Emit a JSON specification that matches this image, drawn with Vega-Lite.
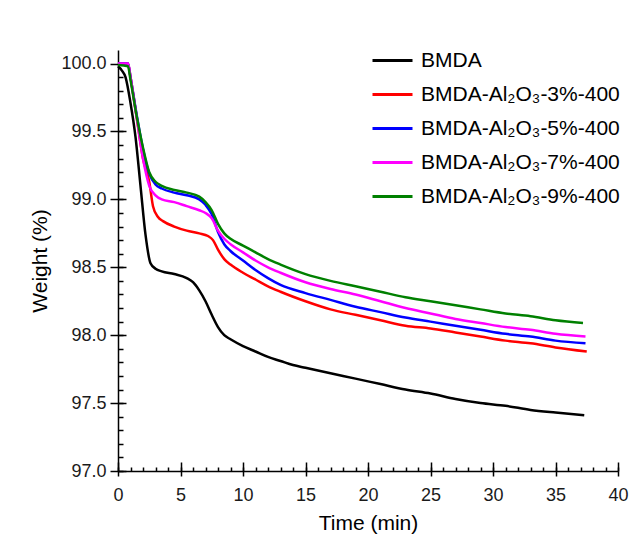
{
  "$schema": "https://vega.github.io/schema/vega-lite/v6.json",
  "width": 500,
  "height": 421,
  "autosize": {"type": "none"},
  "padding": {"left": 118, "top": 50, "right": 23, "bottom": 66},
  "background": "white",
  "config": {
    "view": {"stroke": null},
    "font": "Liberation Sans",
    "axis": {"grid": false, "domainColor": "black", "tickColor": "black", "domainWidth": 1.5, "tickWidth": 1.5, "labelFont": "Liberation Sans", "titleFont": "Liberation Sans", "labelColor": "#1a1a1a", "titleColor": "black", "titleFontWeight": "normal"}
  },
  "data": {
    "values": [
      {"series": "BMDA", "time": 0, "weight": 99.98},
      {"series": "BMDA", "time": 0.3, "weight": 99.95},
      {"series": "BMDA", "time": 0.6, "weight": 99.9},
      {"series": "BMDA", "time": 1.0, "weight": 99.71},
      {"series": "BMDA", "time": 1.4, "weight": 99.46},
      {"series": "BMDA", "time": 1.8, "weight": 99.1},
      {"series": "BMDA", "time": 2.2, "weight": 98.74},
      {"series": "BMDA", "time": 2.6, "weight": 98.53},
      {"series": "BMDA", "time": 3.0, "weight": 98.49},
      {"series": "BMDA", "time": 3.5, "weight": 98.47},
      {"series": "BMDA", "time": 4.5, "weight": 98.45},
      {"series": "BMDA", "time": 5.5, "weight": 98.42},
      {"series": "BMDA", "time": 6.0, "weight": 98.39},
      {"series": "BMDA", "time": 6.5, "weight": 98.33},
      {"series": "BMDA", "time": 7.0, "weight": 98.25},
      {"series": "BMDA", "time": 7.5, "weight": 98.15},
      {"series": "BMDA", "time": 8.0, "weight": 98.06},
      {"series": "BMDA", "time": 8.5, "weight": 98.0},
      {"series": "BMDA", "time": 9.0, "weight": 97.97},
      {"series": "BMDA", "time": 10, "weight": 97.92},
      {"series": "BMDA", "time": 11, "weight": 97.88},
      {"series": "BMDA", "time": 12, "weight": 97.84},
      {"series": "BMDA", "time": 13, "weight": 97.81},
      {"series": "BMDA", "time": 14, "weight": 97.78},
      {"series": "BMDA", "time": 15, "weight": 97.76},
      {"series": "BMDA", "time": 17, "weight": 97.72},
      {"series": "BMDA", "time": 19, "weight": 97.68},
      {"series": "BMDA", "time": 21, "weight": 97.64},
      {"series": "BMDA", "time": 23, "weight": 97.6},
      {"series": "BMDA", "time": 25, "weight": 97.57},
      {"series": "BMDA", "time": 27, "weight": 97.53},
      {"series": "BMDA", "time": 29, "weight": 97.5},
      {"series": "BMDA", "time": 31, "weight": 97.48},
      {"series": "BMDA", "time": 33, "weight": 97.45},
      {"series": "BMDA", "time": 35, "weight": 97.43},
      {"series": "BMDA", "time": 37.3, "weight": 97.41},

      {"series": "BMDA-Al₂O₃-3%-400", "time": 0, "weight": 100.0},
      {"series": "BMDA-Al₂O₃-3%-400", "time": 0.8, "weight": 100.0},
      {"series": "BMDA-Al₂O₃-3%-400", "time": 1.0, "weight": 99.9},
      {"series": "BMDA-Al₂O₃-3%-400", "time": 1.5, "weight": 99.6},
      {"series": "BMDA-Al₂O₃-3%-400", "time": 2.0, "weight": 99.3},
      {"series": "BMDA-Al₂O₃-3%-400", "time": 2.5, "weight": 99.13},
      {"series": "BMDA-Al₂O₃-3%-400", "time": 2.8, "weight": 98.95},
      {"series": "BMDA-Al₂O₃-3%-400", "time": 3.2, "weight": 98.87},
      {"series": "BMDA-Al₂O₃-3%-400", "time": 3.6, "weight": 98.84},
      {"series": "BMDA-Al₂O₃-3%-400", "time": 4.5, "weight": 98.8},
      {"series": "BMDA-Al₂O₃-3%-400", "time": 5.5, "weight": 98.77},
      {"series": "BMDA-Al₂O₃-3%-400", "time": 6.5, "weight": 98.75},
      {"series": "BMDA-Al₂O₃-3%-400", "time": 7.2, "weight": 98.73},
      {"series": "BMDA-Al₂O₃-3%-400", "time": 7.6, "weight": 98.7},
      {"series": "BMDA-Al₂O₃-3%-400", "time": 8.0, "weight": 98.63},
      {"series": "BMDA-Al₂O₃-3%-400", "time": 8.5, "weight": 98.56},
      {"series": "BMDA-Al₂O₃-3%-400", "time": 9.0, "weight": 98.52},
      {"series": "BMDA-Al₂O₃-3%-400", "time": 10, "weight": 98.46},
      {"series": "BMDA-Al₂O₃-3%-400", "time": 11, "weight": 98.41},
      {"series": "BMDA-Al₂O₃-3%-400", "time": 12, "weight": 98.36},
      {"series": "BMDA-Al₂O₃-3%-400", "time": 13, "weight": 98.32},
      {"series": "BMDA-Al₂O₃-3%-400", "time": 15, "weight": 98.25},
      {"series": "BMDA-Al₂O₃-3%-400", "time": 17, "weight": 98.19},
      {"series": "BMDA-Al₂O₃-3%-400", "time": 19, "weight": 98.15},
      {"series": "BMDA-Al₂O₃-3%-400", "time": 21, "weight": 98.11},
      {"series": "BMDA-Al₂O₃-3%-400", "time": 23, "weight": 98.07},
      {"series": "BMDA-Al₂O₃-3%-400", "time": 25, "weight": 98.05},
      {"series": "BMDA-Al₂O₃-3%-400", "time": 27, "weight": 98.02},
      {"series": "BMDA-Al₂O₃-3%-400", "time": 29, "weight": 97.99},
      {"series": "BMDA-Al₂O₃-3%-400", "time": 31, "weight": 97.96},
      {"series": "BMDA-Al₂O₃-3%-400", "time": 33, "weight": 97.94},
      {"series": "BMDA-Al₂O₃-3%-400", "time": 35, "weight": 97.91},
      {"series": "BMDA-Al₂O₃-3%-400", "time": 37.5, "weight": 97.88},

      {"series": "BMDA-Al₂O₃-5%-400", "time": 0, "weight": 100.0},
      {"series": "BMDA-Al₂O₃-5%-400", "time": 0.8, "weight": 100.0},
      {"series": "BMDA-Al₂O₃-5%-400", "time": 1.0, "weight": 99.9},
      {"series": "BMDA-Al₂O₃-5%-400", "time": 1.5, "weight": 99.62},
      {"series": "BMDA-Al₂O₃-5%-400", "time": 2.0, "weight": 99.37},
      {"series": "BMDA-Al₂O₃-5%-400", "time": 2.5, "weight": 99.19},
      {"series": "BMDA-Al₂O₃-5%-400", "time": 3.0, "weight": 99.11},
      {"series": "BMDA-Al₂O₃-5%-400", "time": 3.5, "weight": 99.08},
      {"series": "BMDA-Al₂O₃-5%-400", "time": 4.5, "weight": 99.05},
      {"series": "BMDA-Al₂O₃-5%-400", "time": 5.5, "weight": 99.03},
      {"series": "BMDA-Al₂O₃-5%-400", "time": 6.5, "weight": 99.0},
      {"series": "BMDA-Al₂O₃-5%-400", "time": 7.0, "weight": 98.96},
      {"series": "BMDA-Al₂O₃-5%-400", "time": 7.5, "weight": 98.89},
      {"series": "BMDA-Al₂O₃-5%-400", "time": 8.0, "weight": 98.76},
      {"series": "BMDA-Al₂O₃-5%-400", "time": 8.5, "weight": 98.67},
      {"series": "BMDA-Al₂O₃-5%-400", "time": 9.0, "weight": 98.62},
      {"series": "BMDA-Al₂O₃-5%-400", "time": 10, "weight": 98.55},
      {"series": "BMDA-Al₂O₃-5%-400", "time": 11, "weight": 98.48},
      {"series": "BMDA-Al₂O₃-5%-400", "time": 12, "weight": 98.42},
      {"series": "BMDA-Al₂O₃-5%-400", "time": 13, "weight": 98.37},
      {"series": "BMDA-Al₂O₃-5%-400", "time": 15, "weight": 98.31},
      {"series": "BMDA-Al₂O₃-5%-400", "time": 17, "weight": 98.26},
      {"series": "BMDA-Al₂O₃-5%-400", "time": 19, "weight": 98.21},
      {"series": "BMDA-Al₂O₃-5%-400", "time": 21, "weight": 98.17},
      {"series": "BMDA-Al₂O₃-5%-400", "time": 23, "weight": 98.13},
      {"series": "BMDA-Al₂O₃-5%-400", "time": 25, "weight": 98.1},
      {"series": "BMDA-Al₂O₃-5%-400", "time": 27, "weight": 98.07},
      {"series": "BMDA-Al₂O₃-5%-400", "time": 29, "weight": 98.04},
      {"series": "BMDA-Al₂O₃-5%-400", "time": 31, "weight": 98.01},
      {"series": "BMDA-Al₂O₃-5%-400", "time": 33, "weight": 97.99},
      {"series": "BMDA-Al₂O₃-5%-400", "time": 35, "weight": 97.96},
      {"series": "BMDA-Al₂O₃-5%-400", "time": 37.4, "weight": 97.94},

      {"series": "BMDA-Al₂O₃-7%-400", "time": 0, "weight": 100.0},
      {"series": "BMDA-Al₂O₃-7%-400", "time": 0.8, "weight": 100.0},
      {"series": "BMDA-Al₂O₃-7%-400", "time": 1.0, "weight": 99.9},
      {"series": "BMDA-Al₂O₃-7%-400", "time": 1.5, "weight": 99.6},
      {"series": "BMDA-Al₂O₃-7%-400", "time": 2.0, "weight": 99.3},
      {"series": "BMDA-Al₂O₃-7%-400", "time": 2.5, "weight": 99.1},
      {"series": "BMDA-Al₂O₃-7%-400", "time": 3.0, "weight": 99.03},
      {"series": "BMDA-Al₂O₃-7%-400", "time": 3.5, "weight": 99.0},
      {"series": "BMDA-Al₂O₃-7%-400", "time": 4.5, "weight": 98.98},
      {"series": "BMDA-Al₂O₃-7%-400", "time": 5.5, "weight": 98.95},
      {"series": "BMDA-Al₂O₃-7%-400", "time": 6.5, "weight": 98.92},
      {"series": "BMDA-Al₂O₃-7%-400", "time": 7.0, "weight": 98.9},
      {"series": "BMDA-Al₂O₃-7%-400", "time": 7.5, "weight": 98.86},
      {"series": "BMDA-Al₂O₃-7%-400", "time": 8.0, "weight": 98.77},
      {"series": "BMDA-Al₂O₃-7%-400", "time": 8.5, "weight": 98.71},
      {"series": "BMDA-Al₂O₃-7%-400", "time": 9.0, "weight": 98.67},
      {"series": "BMDA-Al₂O₃-7%-400", "time": 10, "weight": 98.61},
      {"series": "BMDA-Al₂O₃-7%-400", "time": 11, "weight": 98.55},
      {"series": "BMDA-Al₂O₃-7%-400", "time": 12, "weight": 98.5},
      {"series": "BMDA-Al₂O₃-7%-400", "time": 13, "weight": 98.46},
      {"series": "BMDA-Al₂O₃-7%-400", "time": 15, "weight": 98.39},
      {"series": "BMDA-Al₂O₃-7%-400", "time": 17, "weight": 98.34},
      {"series": "BMDA-Al₂O₃-7%-400", "time": 19, "weight": 98.3},
      {"series": "BMDA-Al₂O₃-7%-400", "time": 21, "weight": 98.25},
      {"series": "BMDA-Al₂O₃-7%-400", "time": 23, "weight": 98.2},
      {"series": "BMDA-Al₂O₃-7%-400", "time": 25, "weight": 98.16},
      {"series": "BMDA-Al₂O₃-7%-400", "time": 27, "weight": 98.12},
      {"series": "BMDA-Al₂O₃-7%-400", "time": 29, "weight": 98.09},
      {"series": "BMDA-Al₂O₃-7%-400", "time": 31, "weight": 98.06},
      {"series": "BMDA-Al₂O₃-7%-400", "time": 33, "weight": 98.04},
      {"series": "BMDA-Al₂O₃-7%-400", "time": 35, "weight": 98.01},
      {"series": "BMDA-Al₂O₃-7%-400", "time": 37.4, "weight": 97.99},

      {"series": "BMDA-Al₂O₃-9%-400", "time": 0, "weight": 99.99},
      {"series": "BMDA-Al₂O₃-9%-400", "time": 0.8, "weight": 99.98},
      {"series": "BMDA-Al₂O₃-9%-400", "time": 1.0, "weight": 99.88},
      {"series": "BMDA-Al₂O₃-9%-400", "time": 1.5, "weight": 99.61},
      {"series": "BMDA-Al₂O₃-9%-400", "time": 2.0, "weight": 99.38},
      {"series": "BMDA-Al₂O₃-9%-400", "time": 2.5, "weight": 99.2},
      {"series": "BMDA-Al₂O₃-9%-400", "time": 3.0, "weight": 99.13},
      {"series": "BMDA-Al₂O₃-9%-400", "time": 3.5, "weight": 99.1},
      {"series": "BMDA-Al₂O₃-9%-400", "time": 4.5, "weight": 99.07},
      {"series": "BMDA-Al₂O₃-9%-400", "time": 5.5, "weight": 99.05},
      {"series": "BMDA-Al₂O₃-9%-400", "time": 6.5, "weight": 99.02},
      {"series": "BMDA-Al₂O₃-9%-400", "time": 7.0, "weight": 98.98},
      {"series": "BMDA-Al₂O₃-9%-400", "time": 7.5, "weight": 98.92},
      {"series": "BMDA-Al₂O₃-9%-400", "time": 8.0, "weight": 98.82},
      {"series": "BMDA-Al₂O₃-9%-400", "time": 8.5, "weight": 98.75},
      {"series": "BMDA-Al₂O₃-9%-400", "time": 9.0, "weight": 98.71},
      {"series": "BMDA-Al₂O₃-9%-400", "time": 10, "weight": 98.66},
      {"series": "BMDA-Al₂O₃-9%-400", "time": 11, "weight": 98.61},
      {"series": "BMDA-Al₂O₃-9%-400", "time": 12, "weight": 98.56},
      {"series": "BMDA-Al₂O₃-9%-400", "time": 13, "weight": 98.52},
      {"series": "BMDA-Al₂O₃-9%-400", "time": 15, "weight": 98.45},
      {"series": "BMDA-Al₂O₃-9%-400", "time": 17, "weight": 98.4},
      {"series": "BMDA-Al₂O₃-9%-400", "time": 19, "weight": 98.36},
      {"series": "BMDA-Al₂O₃-9%-400", "time": 21, "weight": 98.32},
      {"series": "BMDA-Al₂O₃-9%-400", "time": 23, "weight": 98.28},
      {"series": "BMDA-Al₂O₃-9%-400", "time": 25, "weight": 98.25},
      {"series": "BMDA-Al₂O₃-9%-400", "time": 27, "weight": 98.22},
      {"series": "BMDA-Al₂O₃-9%-400", "time": 29, "weight": 98.19},
      {"series": "BMDA-Al₂O₃-9%-400", "time": 31, "weight": 98.16},
      {"series": "BMDA-Al₂O₃-9%-400", "time": 33, "weight": 98.14},
      {"series": "BMDA-Al₂O₃-9%-400", "time": 35, "weight": 98.11},
      {"series": "BMDA-Al₂O₃-9%-400", "time": 37.2, "weight": 98.09}
    ]
  },
  "layer": [
    {
      "mark": {"type": "line", "strokeWidth": 2.5, "interpolate": "monotone"},
      "encoding": {
        "x": {"field": "time", "type": "quantitative", "scale": {"domain": [0, 40], "nice": false, "zero": false},
              "axis": {"orient": "bottom", "values": [0, 5, 10, 15, 20, 25, 30, 35, 40], "tickSize": 5, "labelPadding": 10, "labelFontSize": 18, "title": "Time (min)", "titleFontSize": 21, "titlePadding": 8, "labelFlush": false}},
        "y": {"field": "weight", "type": "quantitative", "scale": {"domain": [97, 100.1], "nice": false, "zero": false},
              "axis": {"orient": "left", "values": [97, 97.5, 98, 98.5, 99, 99.5, 100], "format": ".1f", "tickSize": 8, "labelPadding": 4, "labelFontSize": 18, "title": "Weight (%)", "titleFontSize": 21, "titlePadding": 10, "labelFlush": false}},
        "color": {"field": "series", "type": "nominal",
                  "scale": {"domain": ["BMDA", "BMDA-Al₂O₃-3%-400", "BMDA-Al₂O₃-5%-400", "BMDA-Al₂O₃-7%-400", "BMDA-Al₂O₃-9%-400"], "range": ["#000000", "#ff0000", "#0000ff", "#ff00ff", "#008000"]},
                  "legend": {"orient": "none", "legendX": 253, "legendY": -11, "title": null, "symbolType": "stroke", "symbolSize": 1600, "symbolStrokeWidth": 3, "labelFontSize": 21, "labelFont": "Liberation Sans", "labelColor": "black", "labelOffset": 7, "rowPadding": 2, "padding": 0, "labelLimit": 400}}
      }
    },
    {
      "mark": {"type": "point", "opacity": 0},
      "encoding": {
        "x": {"field": "time", "type": "quantitative",
              "axis": {"orient": "bottom", "values": [0,1,2,3,4,5,6,7,8,9,10,11,12,13,14,15,16,17,18,19,20,21,22,23,24,25,26,27,28,29,30,31,32,33,34,35,36,37,38,39,40], "tickSize": -4, "labels": false, "domain": false, "title": null}},
        "y": {"field": "weight", "type": "quantitative",
              "axis": {"orient": "left", "values": [97,97.1,97.2,97.3,97.4,97.5,97.6,97.7,97.8,97.9,98,98.1,98.2,98.3,98.4,98.5,98.6,98.7,98.8,98.9,99,99.1,99.2,99.3,99.4,99.5,99.6,99.7,99.8,99.9,100], "tickSize": -5, "labels": false, "domain": false, "title": null}}
      }
    },
    {
      "mark": {"type": "point", "opacity": 0},
      "encoding": {
        "x": {"field": "time", "type": "quantitative",
              "axis": {"orient": "bottom", "values": [0, 5, 10, 15, 20, 25, 30, 35, 40], "tickSize": -9, "labels": false, "domain": false, "title": null}},
        "y": {"field": "weight", "type": "quantitative",
              "axis": {"orient": "left", "values": [97, 97.5, 98, 98.5, 99, 99.5, 100], "tickSize": -8, "labels": false, "domain": false, "title": null}}
      }
    }
  ],
  "resolve": {"axis": {"x": "independent", "y": "independent"}}
}
